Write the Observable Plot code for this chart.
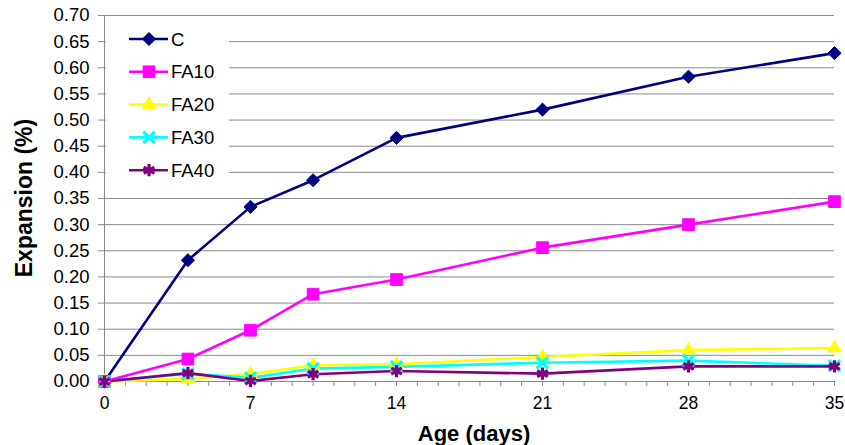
<!DOCTYPE html>
<html><head><meta charset="utf-8">
<script src="https://cdn.jsdelivr.net/npm/d3@7"></script>
<script src="https://cdn.jsdelivr.net/npm/@observablehq/plot@0.6"></script>
<style>
body{margin:0;background:#fff;font-family:"Liberation Sans",Arial,sans-serif;}
#wrap{position:relative;width:845px;height:445px;}
#legend{position:absolute;left:106px;top:24px;}
</style></head><body><div id="wrap"></div>
<script>
// ---- data ----
const days = [0, 4, 7, 10, 14, 21, 28, 35];
const C    = [0, 0.232, 0.334, 0.385, 0.466, 0.520, 0.583, 0.628];
const FA10 = [0, 0.043, 0.098, 0.167, 0.195, 0.256, 0.300, 0.344];
const FA20 = [0, 0.005, 0.014, 0.031, 0.033, 0.047, 0.060, 0.064];
const FA30 = [0, 0.015, 0.007, 0.025, 0.028, 0.036, 0.040, 0.030];
const FA40 = [0, 0.016, 0.001, 0.014, 0.020, 0.015, 0.029, 0.029];
const seriesNames = ["C", "FA10", "FA20", "FA30", "FA40"];
const xTicks = [0, 7, 14, 21, 28, 35];
const yTicks = [0, 0.05, 0.10, 0.15, 0.20, 0.25, 0.30, 0.35, 0.40, 0.45, 0.50, 0.55, 0.60, 0.65, 0.70];
const xTitle = "Age (days)";
const yTitle = "Expansion (%)";

// ---- styles ----
const seriesColors  = ["#000080", "#ff00ff", "#ffff00", "#00ffff", "#800080"];
const seriesSymbols = [d3.symbolDiamond2, d3.symbolSquare, d3.symbolTriangle, d3.symbolTimes, d3.symbolAsterisk];
const seriesFilled  = [true, true, true, false, false];
const seriesR       = [5.9, 6.6, 4.9, 5.2, 5.8];

const seriesValues = [C, FA10, FA20, FA30, FA40];
const table = seriesNames.map((name, i) => days.map((d, j) => ({series: name, day: d, value: seriesValues[i][j]})));
const minorTicks = d3.range(xTicks[0], xTicks[xTicks.length - 1] + 1);

const marks = [
  Plot.gridY(yTicks.slice(1), {stroke: "#8a8a8a", strokeOpacity: 1, strokeWidth: 1}),
  Plot.ruleY([0], {stroke: "#8a8a8a", strokeWidth: 1}),
  Plot.ruleX([0], {stroke: "#8a8a8a", strokeWidth: 1}),
  Plot.axisY(yTicks, {tickSize: 6, tickPadding: 9, tickFormat: d3.format(".2f"), stroke: "#8a8a8a", fontSize: 18.5, fill: "#000", label: null}),
  Plot.axisX(minorTicks, {tickSize: 5, tickFormat: () => "", stroke: "#8a8a8a", label: null}),
  Plot.axisX(xTicks, {tickSize: 0, tickPadding: 15, fontSize: 17.5, fill: "#000", label: null})
];
seriesNames.forEach((name, i) => {
  marks.push(Plot.line(table[i], {x: "day", y: "value", stroke: seriesColors[i], strokeWidth: 2.6}));
});
seriesNames.forEach((name, i) => {
  marks.push(Plot.dot(table[i], {
    x: "day", y: "value", symbol: seriesSymbols[i], r: seriesR[i],
    fill: seriesFilled[i] ? seriesColors[i] : "none",
    stroke: seriesColors[i], strokeWidth: seriesFilled[i] ? 1 : 3.2
  }));
});

const chart = Plot.plot({
  width: 845, height: 445,
  marginLeft: 104, marginRight: 11, marginTop: 15, marginBottom: 64,
  style: {fontFamily: "'Liberation Sans', Arial, sans-serif", background: "#fff", overflow: "visible"},
  x: {domain: [0, 35]},
  y: {domain: [0, 0.70]},
  marks
});
const wrap = document.getElementById("wrap");
wrap.appendChild(chart);

// axis titles
const svg = d3.select(chart);
svg.append("text").attr("x", 474).attr("y", 441)
  .attr("text-anchor", "middle").attr("font-size", 22).attr("font-weight", "bold").attr("fill", "#000")
  .text(xTitle);
svg.append("text").attr("transform", "translate(32,198) rotate(-90)")
  .attr("text-anchor", "middle").attr("font-size", 23).attr("font-weight", "bold").attr("fill", "#000")
  .text(yTitle);

// legend
const lg = d3.select(wrap).append("svg").attr("id", "legend").attr("width", 123).attr("height", 162)
  .style("font-family", "'Liberation Sans', Arial, sans-serif");
lg.append("rect").attr("width", 123).attr("height", 162).attr("fill", "#fff");
seriesNames.forEach((name, i) => {
  const cy = 15 + i * 32.8;
  lg.append("line").attr("x1", 23).attr("x2", 62).attr("y1", cy).attr("y2", cy)
    .attr("stroke", seriesColors[i]).attr("stroke-width", 2.6);
  lg.append("path").attr("transform", `translate(43,${cy})`)
    .attr("d", d3.symbol(seriesSymbols[i], seriesR[i] * seriesR[i] * Math.PI)())
    .attr("fill", seriesFilled[i] ? seriesColors[i] : "none")
    .attr("stroke", seriesColors[i]).attr("stroke-width", seriesFilled[i] ? 1 : 3.2);
  lg.append("text").attr("x", 65).attr("y", cy).attr("dy", "0.36em")
    .attr("font-size", 18.5).attr("fill", "#000").text(name);
});
</script></body></html>
